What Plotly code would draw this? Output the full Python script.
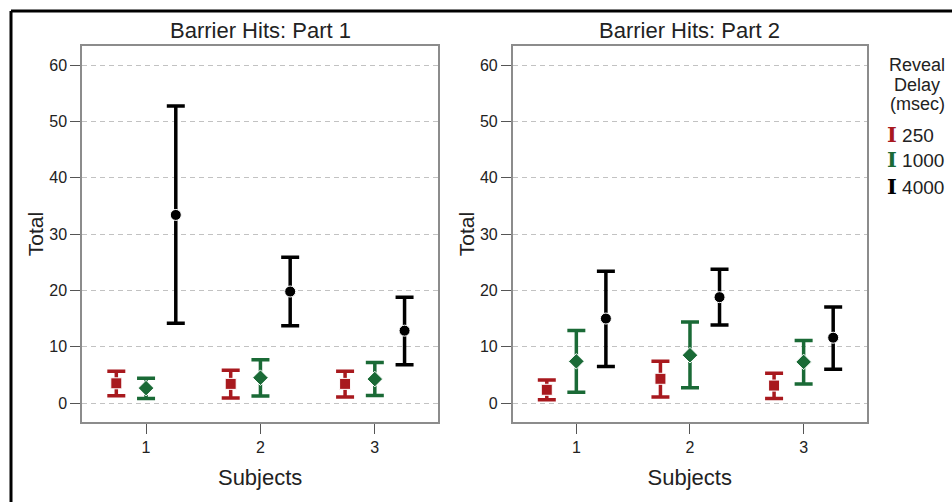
import plotly.graph_objects as go

subjects = [1, 2, 3]
delays = ["250", "1000", "4000"]
colors = ["#a8191e", "#1a6a36", "#000000"]
symbols = ["square", "diamond", "circle"]
offsets = [-0.26, 0.0, 0.26]

# Part 1: means, lower, upper
p1_mean = {"250": [3.5, 3.4, 3.4], "1000": [2.65, 4.5, 4.25], "4000": [33.4, 19.8, 12.85]}
p1_low = {"250": [1.3, 0.9, 1.05], "1000": [0.8, 1.25, 1.35], "4000": [14.15, 13.7, 6.8]}
p1_high = {"250": [5.65, 5.8, 5.65], "1000": [4.4, 7.7, 7.2], "4000": [52.75, 25.9, 18.8]}

# Part 2
p2_mean = {"250": [2.35, 4.3, 3.1], "1000": [7.4, 8.5, 7.3], "4000": [15.0, 18.8, 11.6]}
p2_low = {"250": [0.6, 1.05, 0.8], "1000": [1.9, 2.7, 3.4], "4000": [6.5, 13.85, 6.0]}
p2_high = {"250": [4.1, 7.4, 5.3], "1000": [12.9, 14.4, 11.1], "4000": [23.4, 23.75, 17.05]}

yticks = [0, 10, 20, 30, 40, 50, 60]

W, H = 952, 502


def px(x):
    return x / W


def py(y):
    return 1 - y / H


fig = go.Figure()

parts = [(p1_mean, p1_low, p1_high, "x", "y"), (p2_mean, p2_low, p2_high, "x2", "y2")]
for mean, low, high, xa, ya in parts:
    for d, c, s, off in zip(delays, colors, symbols, offsets):
        m = mean[d]
        up = [h - v for h, v in zip(high[d], m)]
        dn = [v - l for v, l in zip(m, low[d])]
        fig.add_trace(go.Scatter(
            x=[sub + off for sub in subjects], y=m, xaxis=xa, yaxis=ya,
            mode="markers", name=d, showlegend=False,
            marker=dict(symbol=s, size=11 if s != "diamond" else 12, color=c,
                        line=dict(color="white", width=1)),
            error_y=dict(type="data", symmetric=False, array=up, arrayminus=dn,
                         color=c, thickness=3.5, width=9),
        ))

font_family = "Liberation Sans, Arial, sans-serif"
axis_common = dict(showline=True, linecolor="#8c8c8c", linewidth=1.5, mirror=True,
                   ticks="outside", ticklen=10, tickcolor="#555555", tickwidth=1.2,
                   tickfont=dict(size=16, color="#222222", family=font_family),
                   zeroline=False)

xrange = [0.44, 3.555]
yrange = [-3.37, 63.4]
xdom1 = [px(82), px(438.3)]
xdom2 = [px(512.7), px(866.7)]
ydom = [py(422), py(46)]

for i, xd in enumerate([xdom1, xdom2]):
    suffix = "" if i == 0 else "2"
    fig.update_layout(**{
        "xaxis" + suffix: dict(axis_common, domain=xd, range=xrange, tickvals=subjects,
                               ticktext=[str(v) for v in subjects], showgrid=False,
                               anchor="y" + suffix,
                               title=dict(text="Subjects", font=dict(size=22, color="#222222", family=font_family),
                                          standoff=15)),
        "yaxis" + suffix: dict(axis_common, domain=ydom, range=yrange, tickvals=yticks,
                               showgrid=True, gridcolor="#c2c2c2", gridwidth=1.2,
                               griddash="5px,4px", anchor="x" + suffix,
                               title=dict(text="Total", font=dict(size=21, color="#222222", family=font_family),
                                          standoff=0)),
    })

annotations = []
titles = ["Barrier Hits: Part 1", "Barrier Hits: Part 2"]
for t, xd in zip(titles, [xdom1, xdom2]):
    annotations.append(dict(text=t, x=(xd[0] + xd[1]) / 2, y=py(31), xref="paper", yref="paper",
                            showarrow=False, xanchor="center", yanchor="middle",
                            font=dict(size=22, color="#222222", family=font_family)))

legend_title_lines = ["Reveal", "Delay", "(msec)"]
for line, yy in zip(legend_title_lines, [65, 85, 104]):
    annotations.append(dict(text=line, x=px(917), y=py(yy), xref="paper", yref="paper",
                            showarrow=False, xanchor="center", yanchor="middle",
                            font=dict(size=18, color="#222222", family=font_family)))
for k, (d, c) in enumerate(zip(delays, colors)):
    annotations.append(dict(
        text='<span style="font-family:DejaVu Serif;font-weight:bold;font-size:21px;color:%s">I</span> %s' % (c, d),
        x=px(885), y=py(134 + 26 * k), xref="paper", yref="paper",
        showarrow=False, xanchor="left", yanchor="middle",
        font=dict(size=19, color="#222222", family=font_family)))

shapes = [
    dict(type="line", xref="paper", yref="paper", x0=px(11), x1=1.0, y0=py(11), y1=py(11),
         line=dict(color="black", width=3)),
    dict(type="line", xref="paper", yref="paper", x0=px(11), x1=px(11), y0=0, y1=py(11),
         line=dict(color="black", width=3)),
]

fig.update_layout(
    width=W, height=H,
    margin=dict(l=0, r=0, t=0, b=0),
    paper_bgcolor="white", plot_bgcolor="white",
    font=dict(family=font_family, color="#222222"),
    annotations=annotations, shapes=shapes,
    showlegend=False,
)

fig.write_html("out.html", config={"displayModeBar": False},
               post_script="document.body.style.margin='0';document.body.style.overflow='hidden';")
